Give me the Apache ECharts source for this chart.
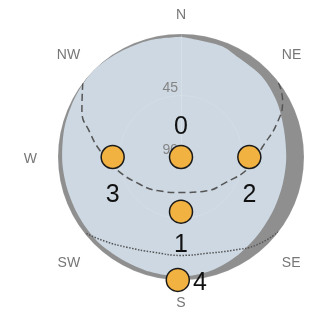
<!DOCTYPE html>
<html>
<head>
<meta charset="utf-8">
<script src="https://cdn.jsdelivr.net/npm/echarts@6/dist/echarts.min.js"></script>
<style>
  html, body { margin: 0; padding: 0; background: #fff; }
  #chart { width: 324px; height: 315px; }
</style>
</head>
<body>
<div id="chart"></div>
<script>
// compass labels, one every 45 degrees from north
const dirLabels = ['N', 'NE', 'E', 'SE', 'S', 'SW', 'W', 'NW'];
const altTicks = [90, 45];

// horizon profile: azimuth (deg) / altitude (deg)
const horizonAz = [0, 20, 30, 45, 60, 75, 90, 105, 120, 135, 150, 165, 180, 195, 210, 225, 240, 255, 270, 285, 300, 315, 330, 345, 360];
const horizonAlt = [2, 3.5, 6, 6.5, 9, 12, 13, 13, 12, 10, 7, 4, 2.5, 3, 3.5, 3, 3.5, 3.5, 3, 2, 1, 0, 1, 1.5, 2];

// summer path (dashed)
const summerAz = [307, 295, 285, 274, 259, 236, 215, 180, 147, 119, 98, 83, 71, 61, 52];
const summerAlt = [0, 10, 21, 31, 42, 54, 60, 64, 60, 52, 39, 30, 16, 5, 0];

// winter path (dotted)
const winterAz = [231, 222, 211, 196, 180, 165, 151, 139, 127];
const winterAlt = [1, 7, 13, 17.5, 18, 17, 12, 5, 0];

// numbered points
const pointNames = ['0', '1', '2', '3', '4'];
const pointAz = [0, 180, 90, 270, 181.5];
const pointAlt = [90, 50, 40, 40, 0];

const labelPlace = {
  '0': { position: 'top', distance: 5 },
  '1': { position: 'bottom', distance: 9 },
  '2': { position: 'bottom', distance: 13 },
  '3': { position: 'bottom', distance: 13 },
  '4': { position: 'right', distance: 3, offset: [0, 3] }
};

const font = "'Liberation Sans', Arial, sans-serif";

// radius = 90 - altitude, so zenith sits in the middle
function toPolar(az, alt) {
  return az.map((a, i) => [90 - alt[i], a]);
}

function dirText(v) {
  const i = Math.round(v / 45) % 8;
  const s = dirLabels[i];
  if (i === 0 || i === 4) return s;
  return (i === 2 || i === 6) ? `{h|${s}}` : `{d|${s}}`;
}

function getOption() {
  return {
    backgroundColor: '#fff',
    animation: false,
    polar: [
      { center: [181, 157], radius: 123 },
      // only carries the compass labels
      { center: [181, 159], radius: 125 }
    ],
    angleAxis: [
      {
        polarIndex: 0,
        type: 'value',
        min: 0,
        max: 360,
        interval: 45,
        startAngle: 90,
        axisLine: { show: false },
        axisTick: { show: false },
        axisLabel: { show: false },
        splitLine: { show: false },
        splitArea: { show: true, areaStyle: { color: ['#8f8f8f'] } }
      },
      {
        polarIndex: 1,
        type: 'value',
        min: 0,
        max: 360,
        interval: 45,
        startAngle: 90,
        axisLine: { show: false },
        axisTick: { show: false },
        splitLine: { show: false },
        axisLabel: {
          margin: 12,
          fontSize: 14,
          fontFamily: font,
          color: '#777',
          formatter: dirText,
          rich: {
            h: { fontSize: 14, fontFamily: font, color: '#777', padding: [0, 7, 0, 7] },
            d: { fontSize: 14, fontFamily: font, color: '#777', padding: [0, 4, 0, 4] }
          }
        }
      }
    ],
    radiusAxis: [
      {
        polarIndex: 0,
        type: 'value',
        min: 0,
        max: 90,
        interval: 45,
        z: 2,
        axisLine: { show: true, lineStyle: { color: 'rgba(255,255,255,0.18)', width: 1 } },
        axisTick: { show: false },
        axisLabel: {
          margin: 3,
          fontSize: 14,
          fontFamily: font,
          color: '#858585',
          align: 'right',
          verticalAlign: 'bottom',
          formatter: (v) => (altTicks.indexOf(90 - v) >= 0 ? String(90 - v) : '')
        },
        splitLine: { show: true, lineStyle: { color: 'rgba(255,255,255,0.12)', width: 1 } }
      },
      { polarIndex: 1, show: false, type: 'value', min: 0, max: 90 }
    ],
    series: [
      {
        name: 'horizon',
        type: 'line',
        coordinateSystem: 'polar',
        polarIndex: 0,
        symbol: 'none',
        smooth: 0.3,
        lineStyle: { width: 0 },
        areaStyle: { color: '#cdd8e2', opacity: 1 },
        data: toPolar(horizonAz, horizonAlt),
        z: 1
      },
      {
        name: 'summer',
        type: 'line',
        coordinateSystem: 'polar',
        polarIndex: 0,
        symbol: 'none',
        smooth: true,
        lineStyle: { color: '#555', width: 1.5, type: [7, 4] },
        data: toPolar(summerAz, summerAlt),
        z: 3
      },
      {
        name: 'winter',
        type: 'line',
        coordinateSystem: 'polar',
        polarIndex: 0,
        symbol: 'none',
        smooth: true,
        lineStyle: { color: '#555', width: 1.5, type: [1.5, 1.5] },
        data: toPolar(winterAz, winterAlt),
        z: 3
      },
      {
        name: 'points',
        type: 'scatter',
        coordinateSystem: 'polar',
        polarIndex: 0,
        symbolSize: 23,
        itemStyle: { color: '#f2b241', borderColor: '#1a1a1a', borderWidth: 1.5, opacity: 1 },
        label: { show: true, fontSize: 25, fontFamily: font, color: '#111', formatter: (p) => p.name },
        data: pointNames.map((n, i) => ({
          name: n,
          value: [90 - pointAlt[i], pointAz[i]],
          label: labelPlace[n]
        })),
        z: 4
      }
    ]
  };
}

const chart = echarts.init(document.getElementById('chart'));
chart.setOption(getOption());
window.addEventListener('resize', () => chart.resize());
</script>
</body>
</html>
